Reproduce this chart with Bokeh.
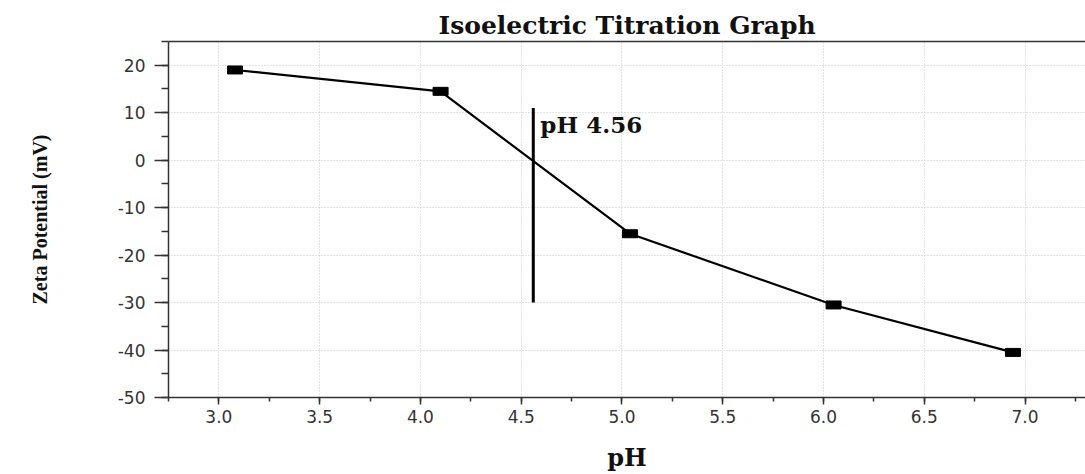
from bokeh.plotting import figure
from bokeh.models import (ColumnDataSource, Range1d, FixedTicker, Label,
                          NumeralTickFormatter, LinearAxis)
from bokeh.embed import file_html
from bokeh.resources import INLINE

ph = [3.08, 4.10, 5.04, 6.05, 6.94]
zeta = [19.0, 14.5, -15.5, -30.5, -40.5]
iep_x = [4.56, 4.56]
iep_y = [-30.0, 11.0]
iep_label = "pH 4.56"
x_ticks = [3.0, 3.5, 4.0, 4.5, 5.0, 5.5, 6.0, 6.5, 7.0]
y_ticks = [-50, -40, -30, -20, -10, 0, 10, 20]

src = ColumnDataSource(dict(x=ph, y=zeta))

p = figure(width=1085, height=474, output_backend="svg", toolbar_location=None,
           x_range=Range1d(2.75, 7.30), y_range=Range1d(-50, 25),
           min_border_left=168, min_border_right=0, min_border_top=41, min_border_bottom=77,
           title="Isoelectric Titration Graph")
p.title.align = "center"
p.title.text_font = "DejaVu Serif"
p.title.text_font_size = "25px"
p.title.text_font_style = "bold"
p.title.text_color = "#111111"
p.title.offset = 0
p.title.standoff = 4

p.line("x", "y", source=src, line_color="black", line_width=2.2)
p.rect("x", "y", width=15, height=8, width_units="screen", height_units="screen",
       source=src, fill_color="black", line_color="black")
p.line(iep_x, iep_y, line_color="black", line_width=3)
p.add_layout(Label(x=4.595, y=7.5, text=iep_label, text_font="DejaVu Serif",
                   text_font_size="23px", text_font_style="bold", text_color="#111111",
                   text_baseline="middle"))

x_axis = p.xaxis[0]
y_axis = p.yaxis[0]
for ax in (x_axis, y_axis):
    ax.axis_line_color = "#333333"
    ax.axis_line_width = 1.5
    ax.major_tick_line_color = "#333333"
    ax.minor_tick_line_color = "#333333"
    ax.major_tick_line_width = 1.5
    ax.minor_tick_line_width = 1.5
    ax.major_tick_in = 0
    ax.minor_tick_in = 0
    ax.major_label_text_font = "DejaVu Sans"
    ax.major_label_text_font_size = "17px"
    ax.major_label_text_color = "#333333"

x_axis.major_tick_out = 7
x_axis.minor_tick_out = 4
x_axis.major_label_standoff = 5
y_axis.major_tick_out = 14
y_axis.minor_tick_out = 7
y_axis.major_label_standoff = 9

p.xaxis.ticker = FixedTicker(ticks=x_ticks, minor_ticks=[2.75 + 0.25 * i for i in range(19)])
p.xaxis.formatter = NumeralTickFormatter(format="0.0")
p.yaxis.ticker = FixedTicker(ticks=y_ticks, minor_ticks=[-50 + 5 * i for i in range(16)])
p.yaxis.formatter = NumeralTickFormatter(format="0")

p.xaxis.axis_label = "pH"
p.xaxis.axis_label_text_font = "DejaVu Serif"
p.xaxis.axis_label_text_font_size = "24px"
p.xaxis.axis_label_text_font_style = "bold"
p.xaxis.axis_label_text_color = "#111111"
p.xaxis.axis_label_standoff = 17

p.yaxis.axis_label = "Zeta Potential (mV)"
p.yaxis.axis_label_text_font = "Liberation Serif"
p.yaxis.axis_label_text_font_size = "20px"
p.yaxis.axis_label_text_font_style = "bold"
p.yaxis.axis_label_text_color = "#111111"
p.yaxis.axis_label_standoff = 64

top = LinearAxis(ticker=FixedTicker(ticks=[]), major_label_text_font_size="0px",
                 axis_line_color="#333333", axis_line_width=1.5,
                 major_tick_line_color=None, minor_tick_line_color=None)
p.add_layout(top, "above")

p.grid.grid_line_color = "#c8c8c8"
p.grid.grid_line_dash = "1 2"
p.grid.grid_line_width = 1
p.outline_line_color = None

open("out.html", "w").write(file_html(p, INLINE))
